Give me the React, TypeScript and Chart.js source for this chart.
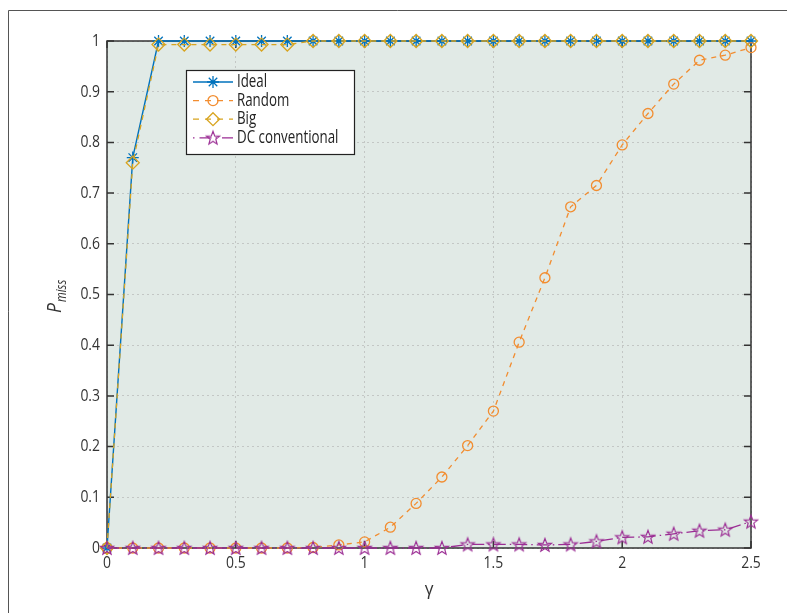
import React, { useEffect, useRef } from "react";
import { Chart, registerables } from "chart.js";

Chart.register(...registerables);

// ---- data ----
const gamma = [0, 0.1, 0.2, 0.3, 0.4, 0.5, 0.6, 0.7, 0.8, 0.9, 1.0, 1.1, 1.2, 1.3, 1.4, 1.5, 1.6, 1.7, 1.8, 1.9, 2.0, 2.1, 2.2, 2.3, 2.4, 2.5];
const idealValues = [0, 0.77, 1, 1, 1, 1, 1, 1, 1, 1, 1, 1, 1, 1, 1, 1, 1, 1, 1, 1, 1, 1, 1, 1, 1, 1];
const randomValues = [0, 0, 0, 0, 0, 0, 0, 0, 0.001, 0.006, 0.012, 0.041, 0.088, 0.14, 0.202, 0.27, 0.406, 0.533, 0.673, 0.715, 0.795, 0.857, 0.915, 0.962, 0.972, 0.987];
const bigValues = [0, 0.76, 0.993, 0.993, 0.993, 0.993, 0.993, 0.993, 1, 1, 1, 1, 1, 1, 1, 1, 1, 1, 1, 1, 1, 1, 1, 1, 1, 1];
const dcValues = [0, 0, 0, 0, 0, 0, 0, 0, 0, 0, 0, 0, 0, 0, 0.007, 0.007, 0.007, 0.006, 0.007, 0.013, 0.021, 0.022, 0.028, 0.034, 0.036, 0.052];
const seriesNames = ["Ideal", "Random", "Big", "DC conventional"];
const xTicks = [0, 0.5, 1, 1.5, 2, 2.5];
const xTickLabels = ["0", "0.5", "1", "1.5", "2", "2.5"];
const yTicks = [0, 0.1, 0.2, 0.3, 0.4, 0.5, 0.6, 0.7, 0.8, 0.9, 1];
const yTickLabels = ["0", "0.1", "0.2", "0.3", "0.4", "0.5", "0.6", "0.7", "0.8", "0.9", "1"];

// ---- styles ----
const BLUE = "#0072BD";
const ORANGE = "#F28D30";
const GOLD = "#D8A41F";
const PURPLE = "#9B2D94";
const BG = "#E1EAE6";
const FONT = '"Open Sans", "Noto Sans", sans-serif';

function makePentagram(color: string, r: number): HTMLCanvasElement {
  const size = Math.ceil(r * 2 + 4);
  const c = document.createElement("canvas");
  c.width = size;
  c.height = size;
  const g = c.getContext("2d")!;
  g.strokeStyle = color;
  g.lineWidth = 1.15;
  g.lineJoin = "miter";
  const cx = size / 2;
  const cy = size / 2 + 0.5;
  g.beginPath();
  for (let i = 0; i < 10; i++) {
    const a = -Math.PI / 2 + (i * Math.PI) / 5;
    const rr = i % 2 === 0 ? r : r * 0.42;
    const px = cx + Math.cos(a) * rr;
    const py = cy + Math.sin(a) * rr;
    if (i === 0) g.moveTo(px, py);
    else g.lineTo(px, py);
  }
  g.closePath();
  g.stroke();
  return c;
}

function drawText(ctx: CanvasRenderingContext2D, text: string, x: number, y: number, font: string, align: "left" | "center" | "right", sx: number, color = "#333") {
  ctx.save();
  ctx.font = font;
  ctx.fillStyle = color;
  ctx.textBaseline = "middle";
  ctx.textAlign = "left";
  const w = ctx.measureText(text).width * sx;
  const left = align === "center" ? x - w / 2 : align === "right" ? x - w : x;
  ctx.translate(left, y);
  ctx.scale(sx, 1);
  ctx.fillText(text, 0, 0);
  ctx.restore();
}

function drawMarker(ctx: CanvasRenderingContext2D, kind: string, x: number, y: number, color: string, star: HTMLCanvasElement) {
  ctx.save();
  ctx.strokeStyle = color;
  ctx.lineWidth = 1.3;
  ctx.setLineDash([]);
  ctx.beginPath();
  if (kind === "asterisk") {
    const r = 6;
    for (let i = 0; i < 4; i++) {
      const a = (i * Math.PI) / 4;
      ctx.moveTo(x - Math.cos(a) * r, y - Math.sin(a) * r);
      ctx.lineTo(x + Math.cos(a) * r, y + Math.sin(a) * r);
    }
    ctx.stroke();
  } else if (kind === "circle") {
    ctx.arc(x, y, 5, 0, Math.PI * 2);
    ctx.stroke();
  } else if (kind === "diamond") {
    const r = 6.5;
    ctx.moveTo(x, y - r);
    ctx.lineTo(x + r, y);
    ctx.lineTo(x, y + r);
    ctx.lineTo(x - r, y);
    ctx.closePath();
    ctx.stroke();
  } else {
    ctx.drawImage(star, x - star.width / 2, y - star.height / 2);
  }
  ctx.restore();
}

export default function App() {
  const ref = useRef<HTMLCanvasElement>(null);

  useEffect(() => {
    const canvas = ref.current;
    if (!canvas) return;
    const star = makePentagram(PURPLE, 7);

    const pts = (vals: number[]) => gamma.map((g, i) => ({ x: g, y: vals[i] }));

    const legendRows = [
      { label: seriesNames[0], color: BLUE, dash: [] as number[], marker: "asterisk" },
      { label: seriesNames[1], color: ORANGE, dash: [6, 6], marker: "circle" },
      { label: seriesNames[2], color: GOLD, dash: [6, 6], marker: "diamond" },
      { label: seriesNames[3], color: PURPLE, dash: [1.5, 5, 12, 4], marker: "star" },
    ];

    const custom = {
      id: "custom",
      beforeDraw(chart: any) {
        const { ctx, chartArea: a } = chart;
        ctx.save();
        ctx.fillStyle = "#fff";
        ctx.fillRect(0, 0, chart.width, chart.height);
        ctx.fillStyle = BG;
        ctx.fillRect(a.left, a.top, a.right - a.left, a.bottom - a.top);
        // outer frame
        ctx.strokeStyle = "#555";
        ctx.lineWidth = 1;
        ctx.beginPath();
        ctx.moveTo(8.5, chart.height);
        ctx.lineTo(8.5, 10.5);
        ctx.lineTo(chart.width, 10.5);
        ctx.stroke();
        ctx.restore();
      },
      beforeDatasetsDraw(chart: any) {
        const { ctx, chartArea: a, scales } = chart;
        ctx.save();
        ctx.strokeStyle = "#333";
        ctx.lineWidth = 1.5;
        ctx.strokeRect(a.left, a.top, a.right - a.left, a.bottom - a.top);
        const tl = 7;
        ctx.beginPath();
        xTicks.forEach((v) => {
          const px = scales.x.getPixelForValue(v);
          ctx.moveTo(px, a.bottom);
          ctx.lineTo(px, a.bottom - tl);
          ctx.moveTo(px, a.top);
          ctx.lineTo(px, a.top + tl);
        });
        yTicks.forEach((v) => {
          const py = scales.y.getPixelForValue(v);
          ctx.moveTo(a.left, py);
          ctx.lineTo(a.left + tl, py);
          ctx.moveTo(a.right, py);
          ctx.lineTo(a.right - tl, py);
        });
        ctx.stroke();
        ctx.restore();
      },
      afterDraw(chart: any) {
        const { ctx, chartArea: a, scales } = chart;
        const tickFont = `17px ${FONT}`;
        xTicks.forEach((v, i) => {
          drawText(ctx, xTickLabels[i], scales.x.getPixelForValue(v), a.bottom + 15, tickFont, "center", 0.82);
        });
        yTicks.forEach((v, i) => {
          drawText(ctx, yTickLabels[i], a.left - 7, scales.y.getPixelForValue(v), tickFont, "right", 0.82);
        });
        // x title
        drawText(ctx, "γ", (a.left + a.right) / 2, a.bottom + 42, `19px ${FONT}`, "center", 0.9);
        // y title
        ctx.save();
        ctx.translate(61, 313);
        ctx.rotate(-Math.PI / 2);
        ctx.fillStyle = "#333";
        ctx.textBaseline = "alphabetic";
        ctx.font = `italic 20px ${FONT}`;
        const pw = ctx.measureText("P").width * 0.88;
        ctx.save();
        ctx.scale(0.88, 1);
        ctx.fillText("P", 0, 0);
        ctx.restore();
        ctx.font = `italic 14px ${FONT}`;
        ctx.save();
        ctx.translate(pw + 1, 5);
        ctx.scale(0.8, 1);
        ctx.fillText("miss", 0, 0);
        ctx.restore();
        ctx.restore();
        // legend
        const L = { x: 186.5, y: 70.5, w: 168, h: 84 };
        ctx.save();
        ctx.fillStyle = "#fff";
        ctx.fillRect(L.x, L.y, L.w, L.h);
        ctx.strokeStyle = "#222";
        ctx.lineWidth = 1.2;
        ctx.strokeRect(L.x, L.y, L.w, L.h);
        ctx.restore();
        legendRows.forEach((r, i) => {
          const cy = 82 + i * 18.6;
          ctx.save();
          ctx.strokeStyle = r.color;
          ctx.lineWidth = 1.3;
          ctx.setLineDash(r.dash);
          ctx.beginPath();
          ctx.moveTo(193, cy);
          ctx.lineTo(233, cy);
          ctx.stroke();
          ctx.restore();
          drawMarker(ctx, r.marker, 213, cy, r.color, star);
          drawText(ctx, r.label, 237, cy, `18.5px ${FONT}`, "left", 0.72, "#222");
        });
      },
    };

    const chart = new Chart(canvas, {
      type: "line",
      data: {
        datasets: [
          {
            label: seriesNames[0],
            data: pts(idealValues),
            borderColor: BLUE,
            backgroundColor: "transparent",
            borderWidth: 1.4,
            pointStyle: "star",
            pointRadius: 6,
            pointBorderWidth: 1.3,
            pointBorderColor: BLUE,
            pointBackgroundColor: "transparent",
            tension: 0,
            clip: false,
            order: 4,
          },
          {
            label: seriesNames[1],
            data: pts(randomValues),
            borderColor: ORANGE,
            backgroundColor: "transparent",
            borderWidth: 1.3,
            borderDash: [5, 5],
            pointStyle: "circle",
            pointRadius: 5,
            pointBorderWidth: 1.3,
            pointBorderColor: ORANGE,
            pointBackgroundColor: "transparent",
            tension: 0,
            clip: false,
            order: 3,
          },
          {
            label: seriesNames[2],
            data: pts(bigValues),
            borderColor: GOLD,
            backgroundColor: "transparent",
            borderWidth: 1.3,
            borderDash: [5, 5],
            pointStyle: "rectRot",
            pointRadius: 6.5,
            pointBorderWidth: 1.3,
            pointBorderColor: GOLD,
            pointBackgroundColor: "transparent",
            tension: 0,
            clip: false,
            order: 2,
          },
          {
            label: seriesNames[3],
            data: pts(dcValues),
            borderColor: PURPLE,
            backgroundColor: "transparent",
            borderWidth: 1.3,
            borderDash: [12, 4, 1.5, 4],
            pointStyle: star as any,
            pointRadius: 7,
            tension: 0,
            clip: false,
            order: 1,
          },
        ] as any,
      },
      options: {
        responsive: false,
        animation: false,
        events: [],
        layout: { padding: { left: 107, right: 36, top: 41, bottom: 65 } },
        plugins: { legend: { display: false }, tooltip: { enabled: false } },
        scales: {
          x: {
            type: "linear",
            min: 0,
            max: 2.5,
            afterBuildTicks: (s: any) => {
              s.ticks = xTicks.map((v) => ({ value: v }));
            },
            afterFit: (s: any) => {
              s.height = 0;
            },
            ticks: { display: false },
            grid: { color: "#c3c7c5", lineWidth: 1, drawTicks: false },
            border: { display: false, dash: [2, 3] },
          },
          y: {
            type: "linear",
            min: 0,
            max: 1,
            afterBuildTicks: (s: any) => {
              s.ticks = yTicks.map((v) => ({ value: v }));
            },
            afterFit: (s: any) => {
              s.width = 0;
            },
            ticks: { display: false },
            grid: { color: "#c3c7c5", lineWidth: 1, drawTicks: false },
            border: { display: false, dash: [2, 3] },
          },
        },
      } as any,
      plugins: [custom],
    });

    return () => chart.destroy();
  }, []);

  return (
    <div style={{ position: "absolute", left: 0, top: 0, width: 787, height: 613 }}>
      <canvas ref={ref} width={787} height={613} style={{ display: "block", width: 787, height: 613 }} />
    </div>
  );
}
